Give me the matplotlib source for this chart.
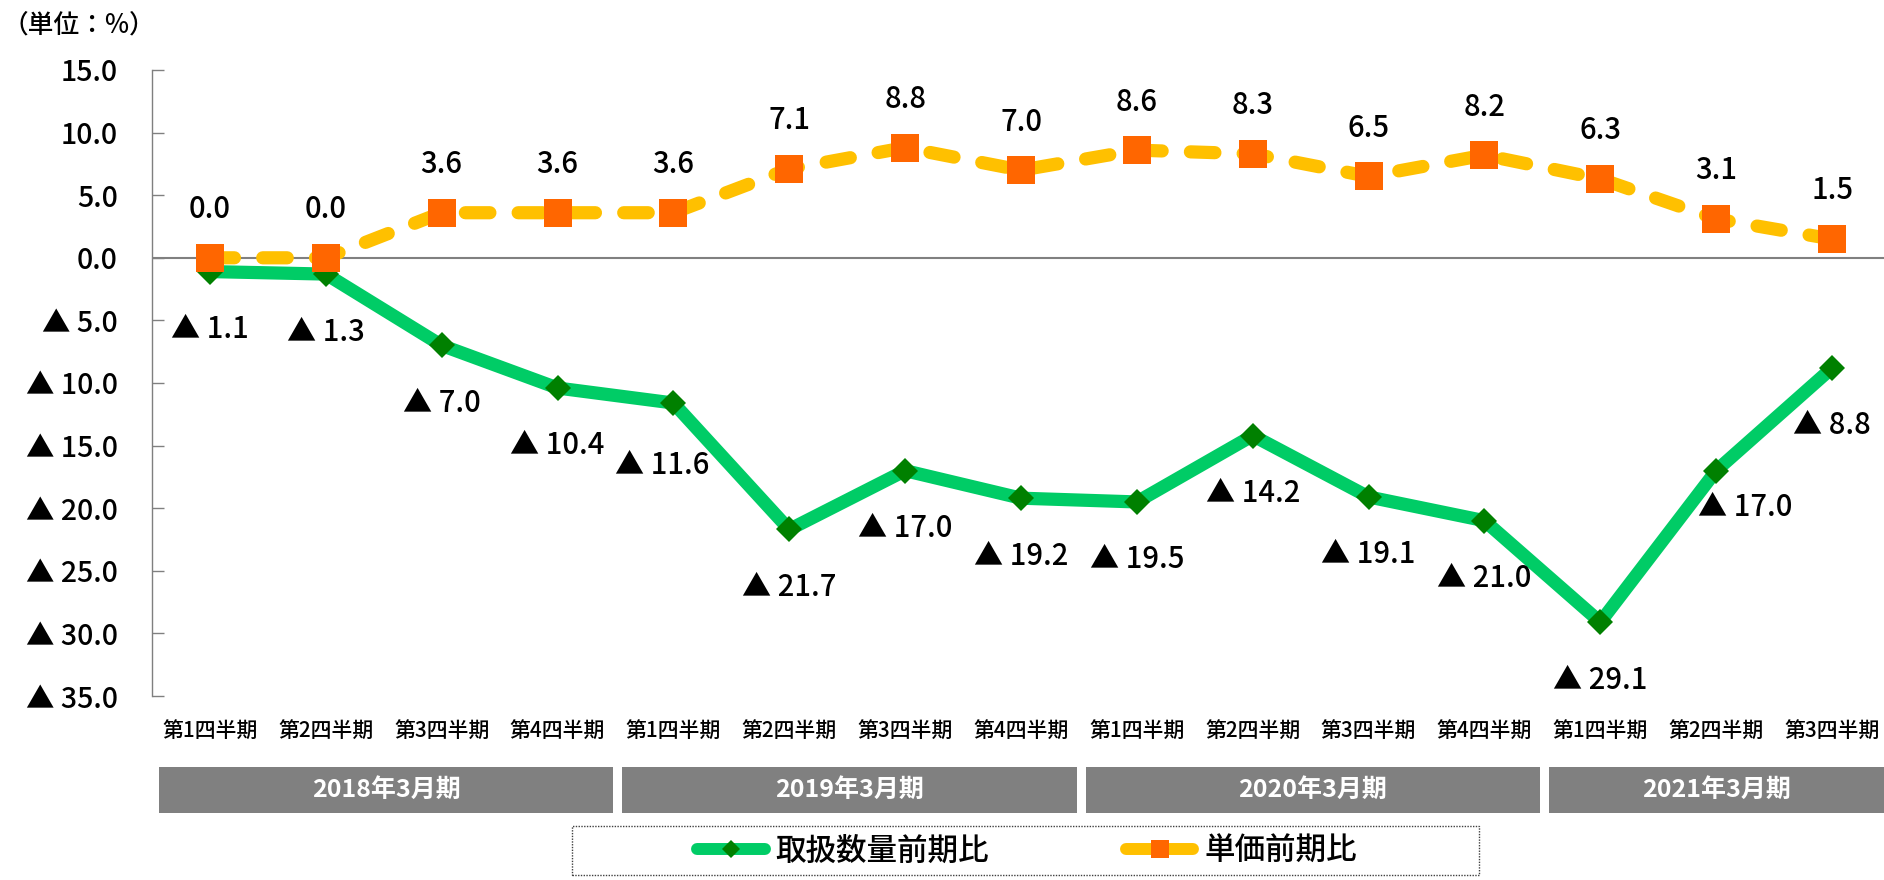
import numpy as np
import matplotlib
matplotlib.use("Agg")
import matplotlib.pyplot as plt
from matplotlib.lines import Line2D
from matplotlib.patches import Rectangle
from matplotlib.transforms import blended_transform_factory

plt.rcParams['font.family'] = ['Noto Sans CJK JP', 'DejaVu Sans']
plt.rcParams['font.weight'] = 500

"""
data
"""
quarters = ['第1四半期', '第2四半期', '第3四半期', '第4四半期',
            '第1四半期', '第2四半期', '第3四半期', '第4四半期',
            '第1四半期', '第2四半期', '第3四半期', '第4四半期',
            '第1四半期', '第2四半期', '第3四半期']
years = ['2018年3月期', '2019年3月期', '2020年3月期', '2021年3月期']
year_sizes = [4, 4, 4, 3]

volume = [-1.1, -1.3, -7.0, -10.4, -11.6, -21.7, -17.0, -19.2,
          -19.5, -14.2, -19.1, -21.0, -29.1, -17.0, -8.8]
price = [0.0, 0.0, 3.6, 3.6, 3.6, 7.1, 8.8, 7.0,
         8.6, 8.3, 6.5, 8.2, 6.3, 3.1, 1.5]

yticks = [15, 10, 5, 0, -5, -10, -15, -20, -25, -30, -35]

green = '#00CC66'
dgreen = '#008000'
yellow = '#FFC000'
orange = '#FF6600'


def fmt(v):
    if v < 0:
        return f'▲ {abs(v):.1f}'
    return f'{v:.1f}'


"""
figure
"""
W, H = 1884, 880
fig = plt.figure(figsize=(W / 100, H / 100), dpi=100)
px = 72 / 100  # points per pixel

ax = fig.add_axes([152 / W, 1 - 696 / H, 1738 / W, 626 / H])
x = np.arange(len(quarters))

ax.axhline(0, color='#808080', lw=1.5, zorder=1)

ax.plot(x, volume, color=green, lw=9.5, solid_joinstyle='miter', zorder=2,
        marker='D', ms=13.5, mfc=dgreen, mec=dgreen, mew=0)
ax.plot(x, price, color=yellow, lw=9.5, linestyle=(0, (1.86, 2.14)),
        dash_capstyle='round', zorder=3,
        marker='s', ms=20.5, mfc=orange, mec=orange, mew=0)

ax.set_xlim(-0.5, 14.5)
ax.set_ylim(-35, 15)
ax.set_xticks([])
ax.set_yticks(yticks)
ax.set_yticklabels([fmt(v) for v in yticks])
ax.tick_params(axis='y', direction='in', length=8.5, width=1, color='#808080',
               pad=24.5, labelsize=20.5)
for s in ['top', 'right', 'bottom']:
    ax.spines[s].set_visible(False)
ax.spines['left'].set_color('#7f7f7f')
ax.spines['left'].set_linewidth(1)

# data labels
cap = 0.733 * 20.5 / px / 2  # half digit height in px
for i, v in enumerate(price):
    ax.annotate(fmt(v), (i, v), xytext=(0, (50 - cap) * px), textcoords='offset points',
                ha='center', va='baseline', fontsize=21, zorder=5)

shift = {4: (-11, 61), 13: (29, 35)}
for i, v in enumerate(volume):
    dx, dy = shift.get(i, (0, 56))
    ax.annotate(fmt(v), (i, v), xytext=(dx * px, -(dy + cap) * px), textcoords='offset points',
                ha='center', va='baseline', fontsize=21, zorder=5)

# category labels and year boxes
tr = blended_transform_factory(ax.transData, fig.transFigure)
for i, q in enumerate(quarters):
    ax.text(i, 1 - 732 / H, q, transform=tr, ha='center', va='center', fontsize=15, clip_on=False)

start = 0
for name, n in zip(years, year_sizes):
    x0 = start - 0.5 + 0.06
    x1 = start + n - 0.5 - 0.02
    if start + n == len(quarters):
        x1 = (W - 152) / 115.86 - 0.5
    ax.add_patch(Rectangle((x0, 1 - 813 / H), x1 - x0, 46 / H, transform=tr,
                           facecolor='#808080', edgecolor='none', clip_on=False))
    ax.text((x0 + x1) / 2, 1 - 790 / H, name, transform=tr, ha='center', va='center',
            color='white', fontsize=18, fontweight='bold', clip_on=False)
    start += n

fig.text(3 / W, 1 - 25 / H, '（単位：%）', ha='left', va='center', fontsize=18.5)

# legend
handles = [
    Line2D([], [], color=green, lw=8.6, solid_capstyle='round', marker='D', ms=8.7,
           mfc=dgreen, mec=dgreen, mew=0),
    Line2D([], [], color=yellow, lw=8.6, solid_capstyle='round', marker='s', ms=12.5,
           mfc=orange, mec=orange, mew=0),
]
fig.legend(handles, ['取扱数量前期比', '単価前期比'], loc='center',
           bbox_to_anchor=(1027 / W, 1 - 851 / H), ncol=2, frameon=False,
           fontsize=22, handlelength=2.2, handletextpad=0.35, columnspacing=4.5)
fig.patches.append(Rectangle((572 / W, 1 - 875 / H), 907 / W, 49 / H, transform=fig.transFigure,
                             facecolor='none', edgecolor='#404040', lw=1, linestyle=(0, (1, 1))))

fig.savefig('out.png', dpi=100)
